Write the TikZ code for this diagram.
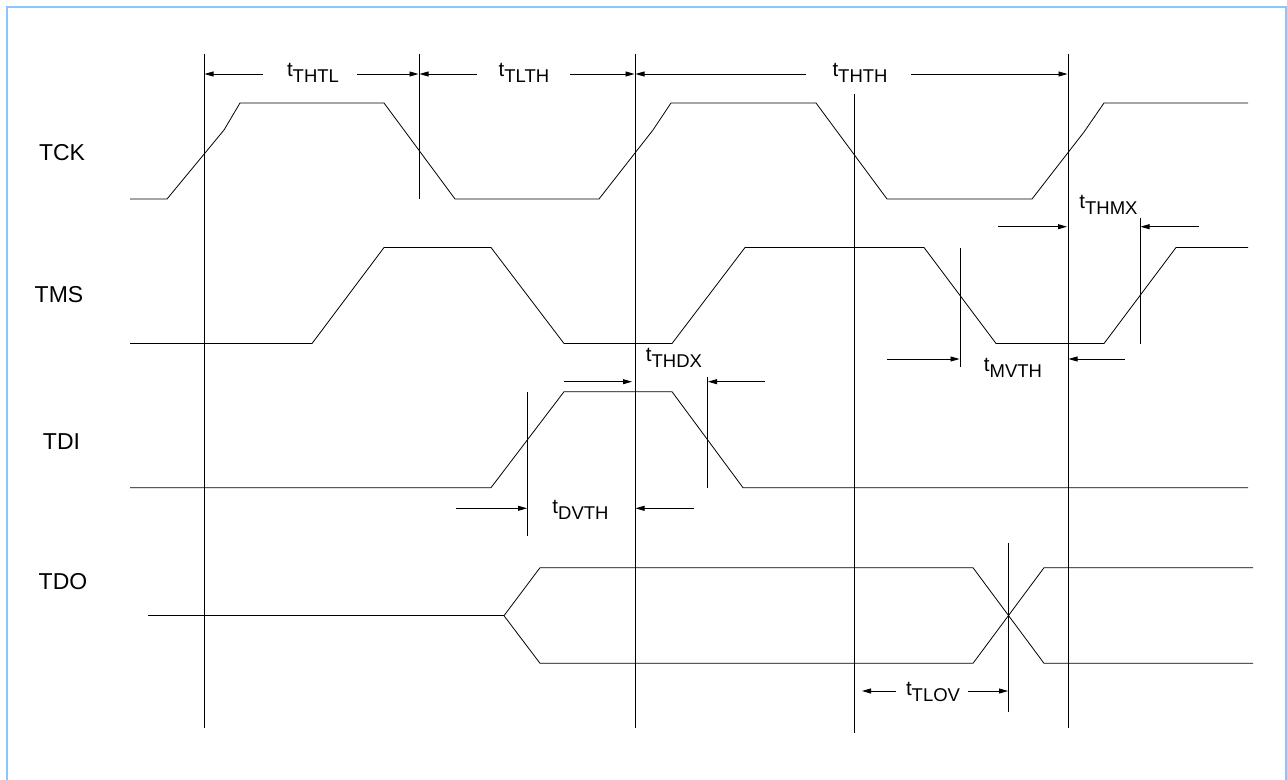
\documentclass[tikz,border=0pt]{standalone}
\usepackage{fontspec}
\setmainfont{Liberation Sans}
\usetikzlibrary{arrows.meta}
\definecolor{frameblue}{RGB}{135,198,255}
\newcommand{\tsub}[1]{\fontsize{20.5}{20.5}\selectfont t\raisebox{-6pt}{\fontsize{18.5}{18.5}\selectfont #1}}
\begin{document}
\begin{tikzpicture}[x=1pt,y=-1pt,
  sig/.style={line width=0.8pt, line join=miter},
  gridline/.style={line width=0.8pt},
  dim/.style={line width=0.8pt,-{Triangle[length=9pt,width=5pt]}},
  siglabel/.style={font=\fontsize{23}{23}\selectfont, inner sep=0pt},
  tlabel/.style={inner sep=0pt, anchor=base}]
\useasboundingbox (0,0) rectangle (1287,779);
\draw[frameblue, line width=2.5pt] (7,781) -- (7,7) -- (1286,7) -- (1286,781);

% signal names
\node[siglabel] (tck) at (62,153) {TCK};
\node[siglabel] (tms) at (59,295) {TMS};
\node[siglabel] (tdi) at (61.5,441.7) {TDI};
\node[siglabel] (tdo) at (63,581.7) {TDO};

% waveforms
\draw[sig] (130,199) -- (167,199) -- (224,130) -- (240,103) -- (384,103) -- (455,199)
  -- (599,199) -- (653,130) -- (671,103) -- (816,103) -- (887,199) -- (1032,199)
  -- (1084,132) -- (1104,103) -- (1248,103);
\draw[sig] (130,343.5) -- (312,343.5) -- (384,247.5) -- (491,247.5) -- (564,343.5)
  -- (672,343.5) -- (745,247.5) -- (924,247.5) -- (996,343.5) -- (1104,343.5)
  -- (1176,247.5) -- (1248,247.5);
\draw[sig] (130,487.7) -- (491,487.7) -- (564,391.7) -- (672,391.7) -- (743,487.7) -- (1248,487.7);
\draw[sig] (148,615.7) -- (504,615.7);
\draw[sig] (540,567.7) -- (504,615.7) -- (540,663.3);
\draw[sig] (540,567.7) -- (973,567.7) -- (1044,663.3) -- (1253,663.3);
\draw[sig] (540,663.3) -- (973,663.3) -- (1044,567.7) -- (1253,567.7);

% reference lines
\coordinate (v1t) at (204,54);   \coordinate (v1b) at (204,728);
\coordinate (v2t) at (419,54);   \coordinate (v2b) at (419,199);
\coordinate (v3t) at (635,54);   \coordinate (v3b) at (635,728);
\coordinate (v4t) at (854,94);   \coordinate (v4b) at (854,733);
\coordinate (v5t) at (1068,54);  \coordinate (v5b) at (1068,728);
\coordinate (s1t) at (527.5,391.7); \coordinate (s1b) at (527.5,535.7);
\coordinate (s2t) at (707.5,376.7); \coordinate (s2b) at (707.5,487.7);
\coordinate (s3t) at (960,247.7);   \coordinate (s3b) at (960,366.7);
\coordinate (s4t) at (1140,218);    \coordinate (s4b) at (1140,344);
\coordinate (s5t) at (1008.3,543);  \coordinate (s5b) at (1008.3,712);
\foreach \n in {v1,v2,v3,v4,v5,s1,s2,s3,s4,s5} \draw[gridline] (\n t) -- (\n b);

% t_THTL
\coordinate (a1) at (263,74);  \coordinate (a1e) at (204.5,74);
\coordinate (a2) at (357,74);  \coordinate (a2e) at (418.5,74);
\draw[dim] (a1) -- (a1e); \draw[dim] (a2) -- (a2e);
\node[tlabel] (lthtl) at (313,76) {\tsub{THTL}};
% t_TLTH
\coordinate (b1) at (477,74);  \coordinate (b1e) at (419.5,74);
\coordinate (b2) at (570,74);  \coordinate (b2e) at (634.5,74);
\draw[dim] (b1) -- (b1e); \draw[dim] (b2) -- (b2e);
\node[tlabel] (ltlth) at (524,76) {\tsub{TLTH}};
% t_THTH
\coordinate (c1) at (806,74);  \coordinate (c1e) at (635.5,74);
\coordinate (c2) at (911,74);  \coordinate (c2e) at (1067.5,74);
\draw[dim] (c1) -- (c1e); \draw[dim] (c2) -- (c2e);
\node[tlabel] (lthth) at (860,76) {\tsub{THTH}};
% t_THMX
\coordinate (d1) at (998,226.7);  \coordinate (d1e) at (1067,226.7);
\coordinate (d2) at (1199,226.7); \coordinate (d2e) at (1140.5,226.7);
\draw[dim] (d1) -- (d1e); \draw[dim] (d2) -- (d2e);
\node[tlabel] (lthmx) at (1108.5,208.3) {\tsub{THMX}};
% t_THDX
\coordinate (e1) at (564,381.7);  \coordinate (e1e) at (632,381.7);
\coordinate (e2) at (765,381.7);  \coordinate (e2e) at (708,381.7);
\draw[dim] (e1) -- (e1e); \draw[dim] (e2) -- (e2e);
\node[tlabel] (lthdx) at (674,361.7) {\tsub{THDX}};
% t_MVTH
\coordinate (f1) at (887,359);   \coordinate (f1e) at (959.5,359);
\coordinate (f2) at (1125,359);  \coordinate (f2e) at (1068.5,359);
\draw[dim] (f1) -- (f1e); \draw[dim] (f2) -- (f2e);
\node[tlabel] (lmvth) at (1013,371.7) {\tsub{MVTH}};
% t_DVTH
\coordinate (g1) at (456,508.3);  \coordinate (g1e) at (527,508.3);
\coordinate (g2) at (694,508.3);  \coordinate (g2e) at (635.5,508.3);
\draw[dim] (g1) -- (g1e); \draw[dim] (g2) -- (g2e);
\node[tlabel] (ldvth) at (580.5,513) {\tsub{DVTH}};
% t_TLOV
\coordinate (h1) at (896,691);   \coordinate (h1e) at (862,691);
\coordinate (h2) at (968,691);   \coordinate (h2e) at (1008,691);
\draw[dim] (h1) -- (h1e); \draw[dim] (h2) -- (h2e);
\node[tlabel] (ltlov) at (933,695) {\tsub{TLOV}};
\end{tikzpicture}
\end{document}
